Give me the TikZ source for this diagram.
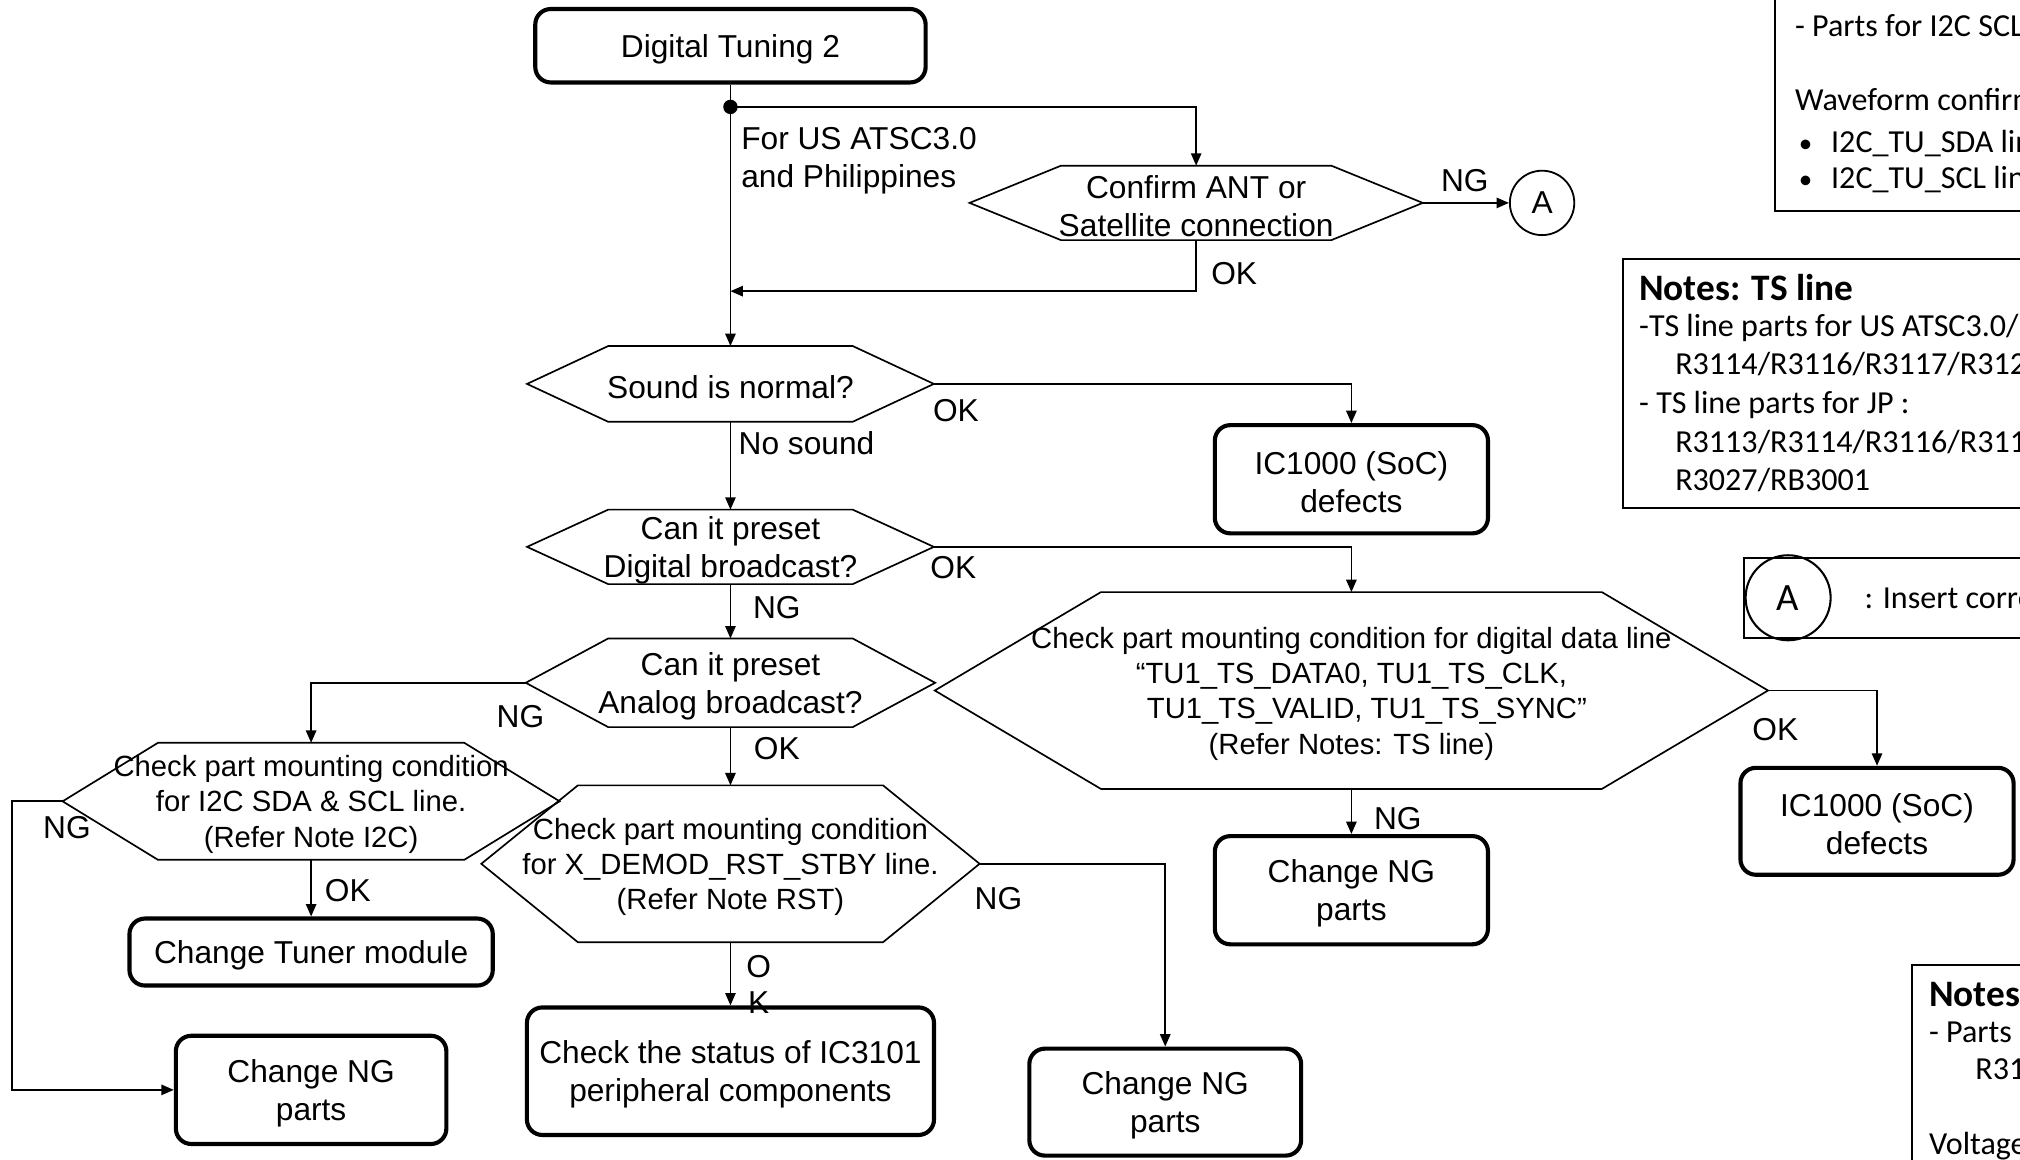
\documentclass[tikz,border=0pt]{standalone}
\usepackage{fontspec}
\setmainfont{Liberation Sans}
\newfontfamily\notefont{Carlito}
\usetikzlibrary{arrows.meta}

\newcommand\fmain{\fontsize{12.3}{14.8}\selectfont}
\newcommand\fsmall{\fontsize{11.35}{13.75}\selectfont}
\newcommand\fnote{\notefont\fontsize{12.45}{15}\selectfont}
\newcommand\fnotehead{\notefont\bfseries\fontsize{14.5}{17}\selectfont}

% hexagonal decision frame around a node: #1 node name, #2 slant width
\newcommand\hexframe[2]{%
  \draw[hexline] (#1.west) -- ([xshift=#2]#1.north west) -- ([xshift=-#2]#1.north east)
    -- (#1.east) -- ([xshift=-#2]#1.south east) -- ([xshift=#2]#1.south west) -- cycle;}
% text set inside a shape node, named <shape>-t
\newcommand\intext[3][]{\node[intxt,#1] (#2-t) at ([yshift=-1.2pt]#2.center) {#3};}

\begin{document}
\begin{tikzpicture}[x=0.5pt, y=-0.5pt,
  conn/.style={line width=0.7pt, -{Triangle[length=4.8pt,width=4pt]}},
  hexline/.style={line width=0.65pt},
  box/.style={draw, line width=1.6pt, rounded corners=6pt, inner sep=0pt},
  hexnode/.style={inner sep=0pt},
  intxt/.style={inner sep=0pt, align=center, font=\fmain},
  small/.style={font=\fsmall},
  lbl/.style={font=\fmain, inner sep=0pt, text height=8.9pt, text depth=0pt},
  notebox/.style={draw, line width=0.8pt},
  notetxt/.style={font=\fnote, inner sep=0pt, text height=8pt, text depth=0pt, anchor=west},
  notehead/.style={font=\fnotehead, inner sep=0pt, text height=9.3pt, text depth=0pt, anchor=west},
]
\useasboundingbox (0,0) rectangle (1568,900);
\clip (0,0) rectangle (1568,900);

% ---- flow nodes ----
\node[box, minimum width=151.5pt, minimum height=28.5pt] (start) at (567,35.5) {};
\intext{start}{Digital Tuning 2}
\node[circle, fill, inner sep=0pt, minimum size=5.6pt] (j) at (567,83) {};

\node[hexnode, minimum width=175.5pt, minimum height=28.5pt] (confirm) at (928.5,157.5) {};
\hexframe{confirm}{35.5pt}
\intext{confirm}{Confirm ANT or\\Satellite connection}
\node[circle, draw, line width=0.7pt, minimum size=25pt, inner sep=0pt, font=\fmain] (A) at (1197,157.5) {A};

\node[hexnode, minimum width=157.5pt, minimum height=29pt] (sound) at (567,298) {};
\hexframe{sound}{31.5pt}
\intext{sound}{Sound is normal?}

\node[hexnode, minimum width=157.5pt, minimum height=28.5pt] (digital) at (567,424.5) {};
\hexframe{digital}{31.5pt}
\intext{digital}{Can it preset\\Digital broadcast?}

\node[hexnode, minimum width=158.5pt, minimum height=34pt] (analog) at (567,530) {};
\hexframe{analog}{32pt}
\intext{analog}{Can it preset\\Analog broadcast?}

\node[hexnode, minimum width=192.5pt, minimum height=45pt] (i2c) at (241.5,622) {};
\hexframe{i2c}{37pt}
\intext[small]{i2c}{Check part mounting condition\\for I2C SDA \& SCL line.\\(Refer Note I2C)}

\node[hexnode, minimum width=193pt, minimum height=60.5pt] (rst) at (567,670.5) {};
\hexframe{rst}{37.5pt}
\intext[small]{rst}{Check part mounting condition\\for X\_DEMOD\_RST\_STBY line.\\(Refer Note RST)}

\node[hexnode, minimum width=323pt, minimum height=76pt] (ts) at (1049,536) {};
\hexframe{ts}{64.5pt}
\intext[small]{ts}{Check part mounting condition for digital data line\\“TU1\_TS\_DATA0, TU1\_TS\_CLK,\hspace*{9pt}\\\hspace*{12pt}TU1\_TS\_VALID, TU1\_TS\_SYNC”\\(Refer Notes: TS line)}

\node[box, minimum width=106pt, minimum height=42pt] (soc1) at (1049,372) {};
\intext{soc1}{IC1000 (SoC)\\defects}
\node[box, minimum width=106pt, minimum height=41.5pt] (soc2) at (1457,637.5) {};
\intext{soc2}{IC1000 (SoC)\\defects}
\node[box, minimum width=141pt, minimum height=26pt] (tuner) at (241.5,739) {};
\intext{tuner}{Change Tuner module}
\node[box, minimum width=105pt, minimum height=42pt] (chg1) at (241.5,846) {};
\intext{chg1}{Change NG\\parts}
\node[box, minimum width=158pt, minimum height=49.5pt] (status) at (567,831.5) {};
\intext{status}{Check the status of IC3101\\peripheral components}
\node[box, minimum width=105.5pt, minimum height=41.5pt] (chg2) at (904.5,855.5) {};
\intext{chg2}{Change NG\\parts}
\node[box, minimum width=106pt, minimum height=42pt] (chg3) at (1049,691) {};
\intext{chg3}{Change NG\\parts}

% ---- connectors ----
\coordinate (merge) at (567,226);
\draw[conn] (start.south) -- (sound.north);
\draw[conn] (j.center) -| (confirm.north);
\draw[conn] (confirm.south) |- (merge);
\draw[conn] (confirm.east) -- (A.west);
\draw[conn] (sound.east) -| (soc1.north);
\draw[conn] (sound.south) -- (digital.north);
\draw[conn] (digital.east) -| (ts.north);
\draw[conn] (digital.south) -- (analog.north);
\draw[conn] (analog.west) -| (i2c.north);
\draw[conn] (analog.south) -- (rst.north);
\draw[conn] (i2c.west) -- ++(-39,0) |- (chg1.west);
\draw[conn] (i2c.south) -- (tuner.north);
\draw[conn] (rst.south) -- (status.north);
\draw[conn] (rst.east) -| (chg2.north);
\draw[conn] (ts.south) -- (chg3.north);
\draw[conn] (ts.east) -| (soc2.north);

% ---- connector labels ----
\node[lbl, anchor=west] (us1) at (575,107) {For US ATSC3.0};
\node[lbl, anchor=west] (us2) at (575,137) {and Philippines};
\node[lbl] (ngc) at (1137,140) {NG};
\node[lbl] (okc) at (958,212) {OK};
\node[lbl] (oks) at (742,318) {OK};
\node[lbl, anchor=west] (nos) at (573,344) {No sound};
\node[lbl] (okd) at (740,440) {OK};
\node[lbl] (ngd) at (603,471) {NG};
\node[lbl] (nga) at (404,556) {NG};
\node[lbl] (oka) at (603,581) {OK};
\node[lbl] (ngi) at (52,642) {NG};
\node[lbl] (oki) at (270,691) {OK};
\node[lbl] (okr1) at (589,750) {O};
\node[lbl] (okr2) at (589,778) {K};
\node[lbl] (ngr) at (775,697) {NG};
\node[lbl] (ngt) at (1085,635) {NG};
\node[lbl] (okt) at (1378,566) {OK};

% ---- notes ----
\draw[notebox] (1378,-20) rectangle (1640,164);
\node[notetxt] (i2ca) at (1393,20) {- Parts for I2C SCL line};
\node[notetxt] (i2cb) at (1393,78) {Waveform confirmation};
\node[notetxt, font=\notefont\fontsize{10.5}{12}\selectfont] (i2cc) at (1396,110) {•};
\node[notetxt] (i2cd) at (1421,110) {I2C\_TU\_SDA line};
\node[notetxt, font=\notefont\fontsize{10.5}{12}\selectfont] (i2ce) at (1396,138) {•};
\node[notetxt] (i2cf) at (1421,138) {I2C\_TU\_SCL line};

\draw[notebox] (1260,201) rectangle (1640,394);
\node[notehead] (tsh) at (1272,224) {Notes: TS line};
\node[notetxt] (tsa) at (1272,253) {-TS line parts for US ATSC3.0/};
\node[notetxt] (tsb) at (1300,283) {R3114/R3116/R3117/R312};
\node[notetxt] (tsc) at (1272,313) {- TS line parts for JP :};
\node[notetxt] (tsd) at (1300,343) {R3113/R3114/R3116/R311};
\node[notetxt] (tse) at (1300,373) {R3027/RB3001};

\draw[notebox] (1354,433) rectangle (1640,495);
\node[circle, draw, line width=0.8pt, minimum size=33pt, inner sep=0pt,
  font=\notefont\fontsize{15}{15}\selectfont] (legA) at (1388,464) {A};
\node[notetxt] (legt) at (1447,464) {: Insert corre};

\draw[notebox] (1484,749) rectangle (1640,960);
\node[notehead] (rsth) at (1497,772) {Notes};
\node[notetxt] (rsta) at (1497,801) {- Parts};
\node[notetxt] (rstb) at (1533,830) {R31};
\node[notetxt] (rstc) at (1497,888) {Voltage};
\end{tikzpicture}
\end{document}
